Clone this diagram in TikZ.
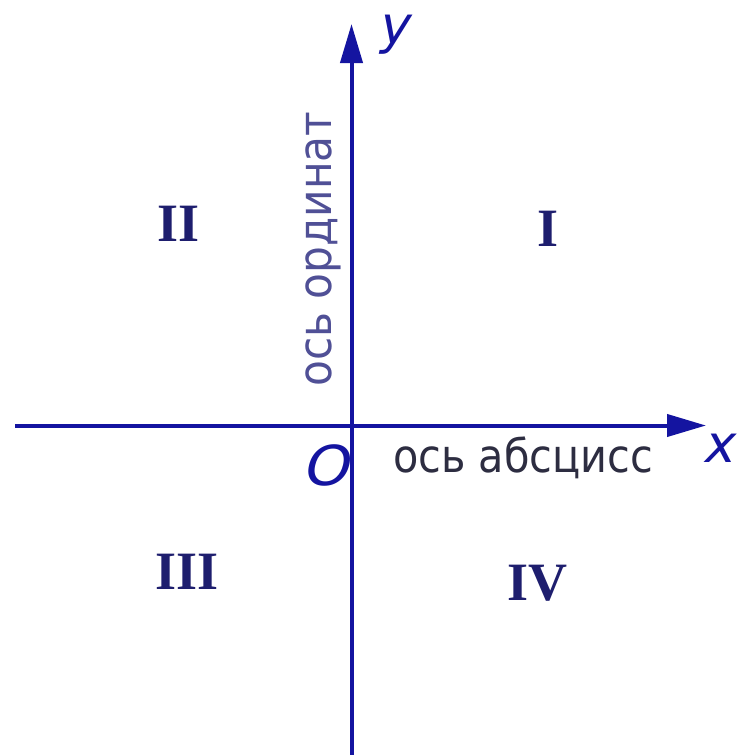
\documentclass[tikz,border=0pt]{standalone}
\usepackage{fontspec}
\setmainfont{Liberation Serif}
\newfontfamily\axfont{DejaVu Sans}
\newfontfamily\axitfont{DejaVu Sans}[FakeSlant=0.22]
\usetikzlibrary{arrows.meta}
\definecolor{axisblue}{RGB}{20,20,160}
\definecolor{numblue}{RGB}{30,30,110}
\definecolor{txtgray}{RGB}{45,45,65}
\definecolor{vtxt}{RGB}{80,80,150}
\tikzset{
  axis/.style={draw=axisblue, line width=4pt, -{Triangle[length=39pt,width=22pt]}},
  quad/.style={text=numblue, font=\bfseries\fontsize{54}{54}\selectfont, inner sep=0pt},
  axlbl/.style={text=axisblue, font=\axitfont\fontsize{52}{52}\selectfont, inner sep=0pt, anchor=base},
  axname/.style={inner sep=0pt, anchor=base west}
}
\begin{document}
\begin{tikzpicture}[x=1pt,y=-1pt]
\useasboundingbox (0,0) rectangle (743,755);
\coordinate (xl) at (15,425.5);
\coordinate (xr) at (706,425.5);
\coordinate (yb) at (351.5,755);
\coordinate (yt) at (351.5,24);
\draw[axis] (yb) -- (yt);
\draw[axis] (xl) -- (xr);
\node[axlbl] (ylab) at (393,43) {y};
\node[axlbl] (xlab) at (718,462) {x};
\node[axlbl, font=\axitfont\fontsize{55}{55}\selectfont] (olab) at (325,485) {\scalebox{1.08}[1]{O}};
\node[axname, text=txtgray] (absc) at (393,472) {\scalebox{0.9}[1]{\axfont\fontsize{46}{46}\selectfont ось абсцисс}};
\node[axname, text=vtxt, rotate=90] (ordn) at (331,387) {\scalebox{0.92}[1]{\axfont\fontsize{46}{46}\selectfont ось ординат}};
\node[quad] (q2) at (179,223.5) {II};
\node[quad] (q1) at (548,229) {I};
\node[quad] (q3) at (187,572) {III};
\node[quad] (q4) at (537.5,583) {IV};
\end{tikzpicture}
\end{document}
